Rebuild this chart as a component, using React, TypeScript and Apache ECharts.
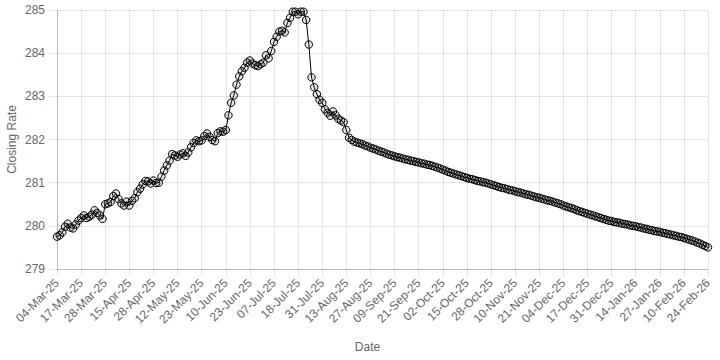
import React, { useEffect, useRef } from "react";
import * as echarts from "echarts";

const tickLabels: string[] = [
  "04-Mar-25", "17-Mar-25", "28-Mar-25", "15-Apr-25", "28-Apr-25", "12-May-25", "23-May-25",
  "10-Jun-25", "23-Jun-25", "07-Jul-25", "18-Jul-25", "31-Jul-25", "13-Aug-25", "27-Aug-25",
  "09-Sep-25", "21-Sep-25", "02-Oct-25", "15-Oct-25", "28-Oct-25", "10-Nov-25", "21-Nov-25",
  "04-Dec-25", "17-Dec-25", "31-Dec-25", "14-Jan-26", "27-Jan-26", "10-Feb-26", "24-Feb-26",
];

const pointsPerLabel = 9;

// Closing rates, Mar 2025 - Aug 2025 (observed)
const ratesSpringSummer: number[] = [
  279.75, 279.78, 279.85, 279.98, 280.05, 279.96, 279.94, 280.03, 280.12, 280.18,
  280.24, 280.18, 280.21, 280.26, 280.36, 280.30, 280.24, 280.16, 280.50, 280.52,
  280.55, 280.69, 280.75, 280.62, 280.52, 280.47, 280.56, 280.47, 280.58, 280.64,
  280.78, 280.86, 280.96, 281.04, 281.03, 280.98, 281.05, 280.99, 281.00, 281.14,
  281.28, 281.40, 281.51, 281.66, 281.63, 281.60, 281.65, 281.68, 281.62, 281.70,
  281.82, 281.92, 281.98, 281.96, 281.98, 282.08, 282.14, 282.06, 281.99, 281.96,
  282.15, 282.19, 282.18, 282.22, 282.56, 282.85, 283.02, 283.27, 283.46, 283.58,
  283.66, 283.78, 283.83, 283.76, 283.72, 283.70, 283.74, 283.78, 283.95, 283.88,
  284.05, 284.26, 284.38, 284.50, 284.52, 284.48, 284.70, 284.82, 284.96, 284.96,
  284.90, 284.96, 284.96, 284.77, 284.20, 283.44, 283.21, 283.05, 282.92, 282.85,
  282.70, 282.62, 282.55, 282.65, 282.56, 282.48, 282.44, 282.40,
];

// Closing rates, Aug 2025 - Feb 2026
const ratesAutumnWinter: number[] = [
  282.22, 282.04, 281.99, 281.95, 281.93, 281.91, 281.89, 281.86, 281.84, 281.81,
  281.79, 281.77, 281.74, 281.72, 281.70, 281.67, 281.65, 281.63, 281.61, 281.59,
  281.58, 281.56, 281.54, 281.53, 281.51, 281.50, 281.48, 281.47, 281.45, 281.44,
  281.42, 281.41, 281.39, 281.37, 281.35, 281.33, 281.30, 281.28, 281.25, 281.23,
  281.21, 281.19, 281.17, 281.15, 281.13, 281.11, 281.09, 281.08, 281.06, 281.04,
  281.03, 281.01, 281.00, 280.98, 280.96, 280.94, 280.92, 280.90, 280.88, 280.87,
  280.85, 280.83, 280.82, 280.80, 280.78, 280.77, 280.75, 280.73, 280.72, 280.70,
  280.68, 280.66, 280.65, 280.63, 280.61, 280.59, 280.58, 280.56, 280.54, 280.52,
  280.50, 280.47, 280.45, 280.43, 280.41, 280.39, 280.36, 280.34, 280.32, 280.30,
  280.28, 280.26, 280.24, 280.22, 280.20, 280.18, 280.16, 280.14, 280.12, 280.11,
  280.09, 280.08, 280.07, 280.05, 280.04, 280.03, 280.01, 280.00, 279.99, 279.97,
  279.96, 279.94, 279.93, 279.91, 279.90, 279.88, 279.87, 279.86, 279.84, 279.83,
  279.81, 279.80, 279.78, 279.77, 279.75, 279.74, 279.72, 279.70, 279.68, 279.66,
  279.64, 279.61, 279.59, 279.56, 279.53, 279.50,
];

const closingRates: number[] = [...ratesSpringSummer, ...ratesAutumnWinter];

const categories: string[] = closingRates.map((_, i) => {
  const base = tickLabels[Math.floor(i / pointsPerLabel)] ?? tickLabels[tickLabels.length - 1];
  return i % pointsPerLabel === 0 ? base : `${base}#${i % pointsPerLabel}`;
});

const FONT = "'Liberation Sans', Arial, Helvetica, sans-serif";
const GRID = "rgba(0,0,0,0.1)";

export default function App() {
  const ref = useRef<HTMLDivElement>(null);
  useEffect(() => {
    if (!ref.current) return;
    const chart = echarts.init(ref.current, undefined, { renderer: "svg" });
    chart.setOption({
      animation: false,
      backgroundColor: "#ffffff",
      grid: { left: 57, right: 12, top: 10, bottom: 91, containLabel: false, outerBoundsMode: "none" },
      xAxis: {
        type: "category",
        data: categories,
        boundaryGap: false,
        name: "Date",
        nameLocation: "middle",
        nameGap: 72,
        nameMoveOverlap: false,
        nameTextStyle: { color: "#666", fontSize: 12, fontFamily: FONT, padding: [0, 30, 0, 0] },
        axisLine: { show: true, lineStyle: { color: "rgba(0,0,0,0.18)", width: 1 } },
        axisTick: { show: true, interval: pointsPerLabel - 1, length: 8, lineStyle: { color: GRID } },
        axisLabel: {
          interval: pointsPerLabel - 1,
          rotate: 45,
          margin: 12,
          color: "#666",
          fontSize: 12,
          fontFamily: FONT,
        },
        splitLine: { show: true, interval: pointsPerLabel - 1, lineStyle: { color: GRID, width: 1 } },
      },
      yAxis: {
        type: "value",
        min: 279,
        max: 285,
        interval: 1,
        name: "Closing Rate",
        nameLocation: "middle",
        nameGap: 39,
        nameMoveOverlap: false,
        nameRotate: 90,
        nameTextStyle: { color: "#666", fontSize: 12, fontFamily: FONT },
        axisLine: { show: true, lineStyle: { color: "rgba(0,0,0,0.18)", width: 1 } },
        axisTick: { show: true, length: 8, lineStyle: { color: GRID } },
        axisLabel: { color: "#666", fontSize: 12, fontFamily: FONT, margin: 12 },
        splitLine: { show: true, lineStyle: { color: GRID, width: 1 } },
      },
      series: [
        {
          type: "line",
          data: closingRates,
          showAllSymbol: true,
          symbol: "circle",
          symbolSize: 7.5,
          lineStyle: { color: "#000", width: 1 },
          itemStyle: { color: "rgba(0,0,0,0.1)", borderColor: "#000", borderWidth: 1 },
          emphasis: { disabled: true },
        },
      ],
    });
    return () => chart.dispose();
  }, []);
  return (
    <div
      ref={ref}
      style={{ position: "fixed", left: 0, top: 0, width: 720, height: 360, background: "#fff" }}
    />
  );
}
